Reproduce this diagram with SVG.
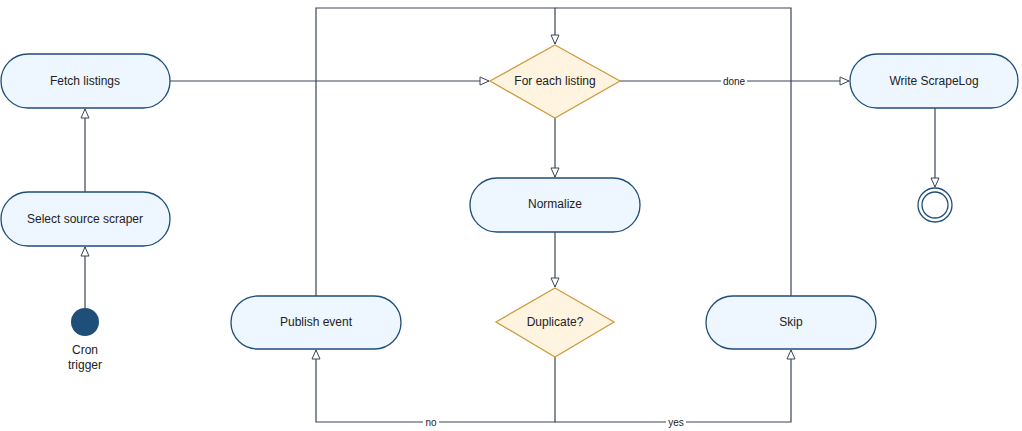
<svg xmlns="http://www.w3.org/2000/svg" width="1022" height="431" viewBox="0 0 1022 431">
<style>
.n{fill:#eef6ff;stroke:#1f4e79;stroke-width:1.3}
.d{fill:#fff4e0;stroke:#d09a3e;stroke-width:1.3}
.c{fill:none;stroke:#3a4556;stroke-width:1.2}
text{font-family:"Liberation Sans",Arial,sans-serif;font-size:12px;fill:#222;text-anchor:middle}
.l{font-size:10px}
.lb{fill:#fff}
</style>
<defs>
<marker id="a" markerWidth="12" markerHeight="10" refX="10" refY="5" orient="auto" markerUnits="userSpaceOnUse">
<path d="M1,1 L10,5 L1,9 Z" fill="#fff" stroke="#3a4556" stroke-width="1"/>
</marker>
</defs>
<g id="connectors">
<path class="c" d="M85,308 V247" marker-end="url(#a)"/>
<path class="c" d="M85,192 V109" marker-end="url(#a)"/>
<path class="c" d="M170,81 H489" marker-end="url(#a)"/>
<path class="c" d="M620,81 H849" marker-end="url(#a)"/>
<rect class="lb" x="721" y="75" width="26" height="12"/>
<text class="l" x="734" y="85">done</text>
<path class="c" d="M935,108 V187" marker-end="url(#a)"/>
<path class="c" d="M555,118 V177" marker-end="url(#a)"/>
<path class="c" d="M555,232 V287" marker-end="url(#a)"/>
<path class="c" d="M316,296 V8 H555 V44" marker-end="url(#a)"/>
<path class="c" d="M791,296 V8 H555"/>
<path class="c" d="M555,357 V422 H316 V350" marker-end="url(#a)"/>
<path class="c" d="M555,422 H791 V350" marker-end="url(#a)"/>
<rect class="lb" x="423" y="416" width="16" height="12"/>
<text class="l" x="431" y="426">no</text>
<rect class="lb" x="666" y="416" width="20" height="12"/>
<text class="l" x="676" y="426">yes</text>
</g>
<g id="cron"><circle cx="85" cy="322" r="14" fill="#1f4e79"/><text x="85" y="354">Cron</text><text x="85" y="369">trigger</text></g>
<g id="select"><rect class="n" x="1" y="192" width="169" height="54" rx="27"/><text x="85" y="223">Select source scraper</text></g>
<g id="fetch"><rect class="n" x="1" y="54" width="169" height="54" rx="27"/><text x="85" y="85">Fetch listings</text></g>
<g id="foreach"><path class="d" d="M555,45 L620,81 L555,118 L490,81 Z"/><text x="555" y="85">For each listing</text></g>
<g id="write"><rect class="n" x="850" y="54" width="168" height="54" rx="27"/><text x="934" y="85">Write ScrapeLog</text></g>
<g id="end"><circle cx="935" cy="205" r="17" fill="#fff" stroke="#1f4e79" stroke-width="1.3"/><circle cx="935" cy="205" r="13" fill="#fff" stroke="#1f4e79" stroke-width="1.3"/></g>
<g id="normalize"><rect class="n" x="470" y="178" width="170" height="54" rx="27"/><text x="555" y="208">Normalize</text></g>
<g id="duplicate"><path class="d" d="M555,288 L614,322 L555,357 L496,322 Z"/><text x="555" y="326">Duplicate?</text></g>
<g id="publish"><rect class="n" x="231" y="296" width="170" height="53" rx="26.5"/><text x="316" y="326">Publish event</text></g>
<g id="skip"><rect class="n" x="706" y="296" width="170" height="53" rx="26.5"/><text x="791" y="326">Skip</text></g>
</svg>
